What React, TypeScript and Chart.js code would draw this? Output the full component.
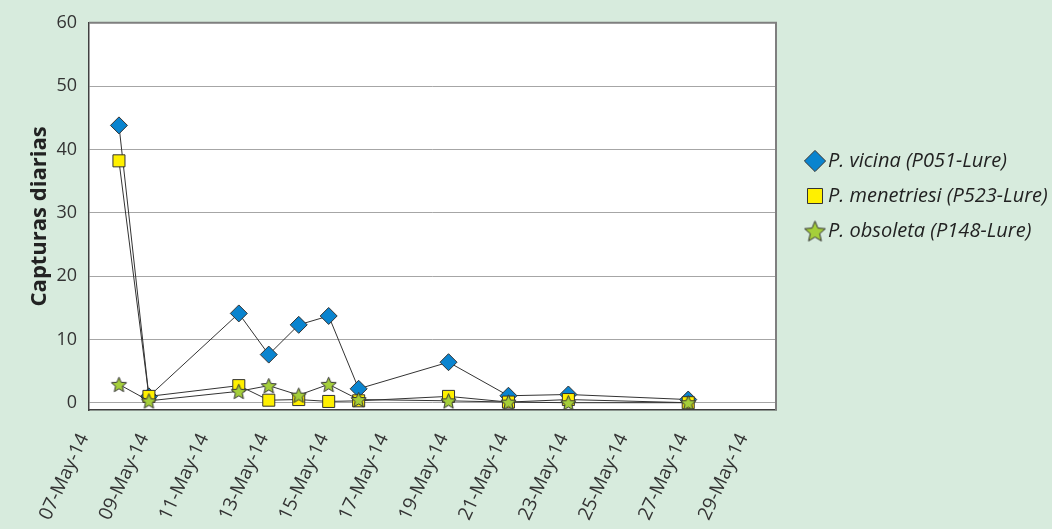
import React, { useEffect, useRef } from "react";
import { Chart, registerables } from "chart.js";

Chart.register(...registerables);

// ---- Data ----
const axisStart = "07-May-14";
const sampleDates = [
  "08-May-14", "09-May-14", "12-May-14", "13-May-14", "14-May-14", "15-May-14",
  "16-May-14", "19-May-14", "21-May-14", "23-May-14", "27-May-14",
];
const vicina = [43.8, 1.0, 14.1, 7.6, 12.3, 13.7, 2.2, 6.4, 1.1, 1.3, 0.5];
const menetriesi = [38.2, 1.0, 2.7, 0.4, 0.5, 0.2, 0.3, 1.0, 0.1, 0.5, 0.0];
const obsoleta = [2.9, 0.3, 1.8, 2.7, 1.2, 2.9, 0.5, 0.3, 0.1, 0.0, 0.0];
const seriesLabels = [
  "P. vicina (P051-Lure)",
  "P. menetriesi (P523-Lure)",
  "P. obsoleta (P148-Lure)",
];
const yTitle = "Capturas diarias";
const yTickValues = [0, 10, 20, 30, 40, 50, 60];
const xTickLabels = [
  "07-May-14", "09-May-14", "11-May-14", "13-May-14", "15-May-14", "17-May-14",
  "19-May-14", "21-May-14", "23-May-14", "25-May-14", "27-May-14", "29-May-14",
];

const MONTHS = ["Jan", "Feb", "Mar", "Apr", "May", "Jun", "Jul", "Aug", "Sep", "Oct", "Nov", "Dec"];

function parseDate(s: string): number {
  const [d, m, y] = s.split("-");
  return Date.UTC(2000 + parseInt(y, 10), MONTHS.indexOf(m), parseInt(d, 10));
}
const DAY = 86400000;
const t0 = parseDate(axisStart);
function dayOffset(s: string): number {
  return Math.round((parseDate(s) - t0) / DAY);
}
function formatOffset(v: number): string {
  const dt = new Date(t0 + Math.round(v) * DAY);
  const dd = String(dt.getUTCDate()).padStart(2, "0");
  const yy = String(dt.getUTCFullYear() % 100).padStart(2, "0");
  return `${dd}-${MONTHS[dt.getUTCMonth()]}-${yy}`;
}

function makeStar(outer: number, fill: string): HTMLCanvasElement {
  const pad = 1.5;
  const size = Math.ceil(outer * 2 + pad * 2);
  const c = document.createElement("canvas");
  c.width = size;
  c.height = size;
  const ctx = c.getContext("2d")!;
  const cx = size / 2;
  const cy = size / 2 + outer * 0.1;
  const inner = outer * 0.45;
  ctx.beginPath();
  for (let i = 0; i < 10; i++) {
    const r = i % 2 === 0 ? outer : inner;
    const a = -Math.PI / 2 + (i * Math.PI) / 5;
    const x = cx + r * Math.cos(a);
    const y = cy + r * Math.sin(a);
    if (i === 0) ctx.moveTo(x, y);
    else ctx.lineTo(x, y);
  }
  ctx.closePath();
  ctx.fillStyle = fill;
  ctx.fill();
  ctx.strokeStyle = "#333";
  ctx.lineWidth = 1;
  ctx.stroke();
  return c;
}

const W = 1052;
const H = 529;
const PLOT_RIGHT = 776;
const PLOT_BOTTOM = 410;
const PLOT_LEFT = 89;

export default function App() {
  const ref = useRef<HTMLCanvasElement | null>(null);

  useEffect(() => {
    if (!ref.current) return;
    const starPoint = makeStar(8, "#A5CF3A");
    const starLegend = makeStar(11, "#A5CF3A");
    const xs = sampleDates.map(dayOffset);
    const xTickOffsets = xTickLabels.map(dayOffset);
    const toPts = (arr: number[]) => arr.map((v, i) => ({ x: xs[i], y: v }));

    Chart.defaults.font.family = "'Open Sans', sans-serif";

    const plotFrame = {
      id: "plotFrame",
      beforeDraw(chart: any) {
        const { ctx, chartArea } = chart;
        ctx.save();
        ctx.fillStyle = "#ffffff";
        ctx.fillRect(chartArea.left, chartArea.top, chartArea.right - chartArea.left, chartArea.bottom - chartArea.top);
        ctx.restore();
      },
      beforeDatasetsDraw(chart: any) {
        const { ctx, chartArea } = chart;
        ctx.save();
        ctx.strokeStyle = "#7f7f7f";
        ctx.lineWidth = 2;
        ctx.beginPath();
        ctx.moveTo(chartArea.left, chartArea.top);
        ctx.lineTo(chartArea.right, chartArea.top);
        ctx.lineTo(chartArea.right, chartArea.bottom);
        ctx.stroke();
        ctx.restore();
      },
    };

    const legendPlace = {
      id: "legendPlace",
      beforeLayout(chart: any) {
        const lg = chart.legend;
        if (lg && !lg._patched) {
          const orig = lg.fit.bind(lg);
          lg.fit = function () {
            orig();
            this.width = W - PLOT_RIGHT;
          };
          lg._patched = true;
        }
      },
      afterLayout(chart: any) {
        const lg = chart.legend;
        if (!lg) return;
        const pad = 15;
        lg.left = 812 - pad;
        lg.right = lg.left + lg.width;
        lg.top = 151 - pad;
        lg.bottom = lg.top + lg.height;
      },
    };

    const common = {
      borderColor: "#333333",
      borderWidth: 1,
      pointBorderColor: "#333333",
      pointBorderWidth: 1,
      tension: 0,
      fill: false,
    };

    const chart = new Chart(ref.current, {
      type: "line",
      data: {
        datasets: [
          {
            ...common,
            label: seriesLabels[0],
            data: toPts(vicina),
            pointStyle: "rectRot",
            pointRadius: 8.5,
            pointBackgroundColor: "#0A84CF",
            order: 3,
          },
          {
            ...common,
            label: seriesLabels[1],
            data: toPts(menetriesi),
            pointStyle: "rect",
            pointRadius: 8.5,
            pointBackgroundColor: "#FFF000",
            order: 2,
          },
          {
            ...common,
            label: seriesLabels[2],
            data: toPts(obsoleta),
            pointStyle: starPoint as any,
            pointRadius: 8,
            pointBackgroundColor: "#A5CF3A",
            order: 1,
          },
        ],
      },
      options: {
        animation: false,
        responsive: false,
        layout: { padding: { top: 22, left: 0, right: 0, bottom: 0 } },
        plugins: {
          tooltip: { enabled: false },
          legend: {
            display: true,
            position: "right",
            align: "start",
            labels: {
              usePointStyle: true,
              boxWidth: 6,
              boxHeight: 15,
              padding: 15,
              color: "#222222",
              font: { size: 20, style: "italic", family: "'Open Sans', sans-serif" },
              generateLabels(chart: any) {
                const items = (Chart.defaults.plugins.legend.labels as any).generateLabels(chart);
                items.forEach((it: any) => {
                  if (it.datasetIndex === 2) it.pointStyle = starLegend;
                });
                items.sort((a: any, b: any) => a.datasetIndex - b.datasetIndex);
                return items;
              },
            },
          },
        },
        scales: {
          x: {
            type: "linear",
            min: 0,
            max: 22.93,
            bounds: "data",
            afterBuildTicks(s: any) {
              s.ticks = xTickOffsets.map((v) => ({ value: v }));
            },
            ticks: {
              autoSkip: false,
              minRotation: 65,
              maxRotation: 65,
              padding: 20,
              labelOffset: -5,
              color: "#333333",
              font: { size: 19 },
              callback: (v: any) => formatOffset(Number(v)),
            },
            grid: { display: false, drawTicks: false },
            border: { display: true, color: "#404040", width: 1.5 },
            afterFit(s: any) {
              s.height = H - PLOT_BOTTOM;
            },
          },
          y: {
            min: -1.15,
            max: 60,
            bounds: "data",
            afterBuildTicks(s: any) {
              s.ticks = yTickValues.map((v) => ({ value: v }));
            },
            ticks: {
              padding: 12,
              color: "#333333",
              font: { size: 18 },
            },
            grid: { color: "#a6a6a6", lineWidth: 1, drawTicks: false },
            border: { display: true, color: "#404040", width: 1.5 },
            title: {
              display: true,
              text: yTitle,
              color: "#222222",
              font: { size: 22, weight: "bold" },
              padding: { top: 27, bottom: 0 },
            },
            afterFit(s: any) {
              s.width = PLOT_LEFT;
            },
          },
        },
      } as any,
      plugins: [plotFrame, legendPlace],
    });
    return () => chart.destroy();
  }, []);

  return (
    <div
      style={{
        position: "fixed",
        left: 0,
        top: 0,
        width: W,
        height: H,
        background: "#D7EBDD",
      }}
    >
      <canvas ref={ref} width={W} height={H} style={{ display: "block" }} />
    </div>
  );
}
